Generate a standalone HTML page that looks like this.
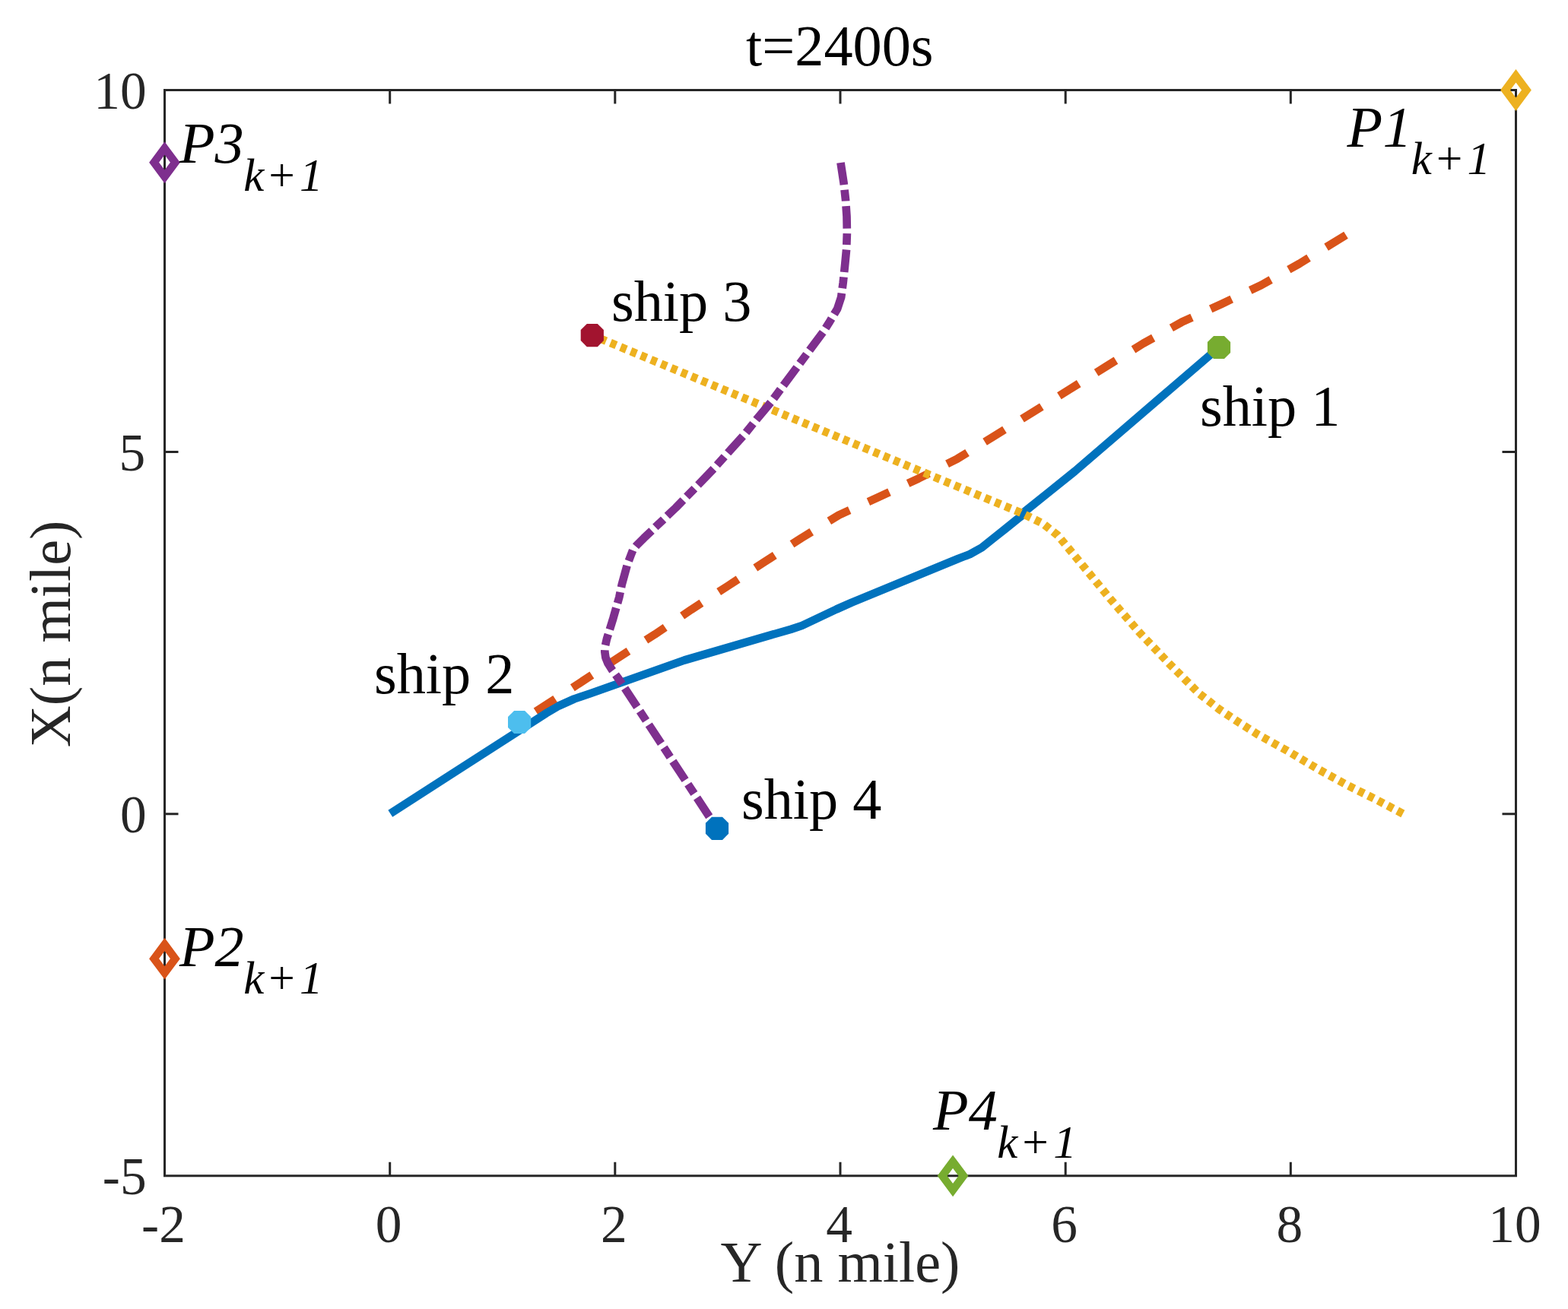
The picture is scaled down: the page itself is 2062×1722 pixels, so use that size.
<!DOCTYPE html>
<html lang="en"><head><meta charset="utf-8"><title>t=2400s</title>
<style>
html,body{margin:0;padding:0;background:#fff;}
body{width:2062px;height:1722px;overflow:hidden;}
svg{display:block;}
text{font-family:"Liberation Serif","Times New Roman",serif;}
.tk{font-size:69.4px;fill:#262626;}
.lb{font-size:76.3px;fill:#262626;}
.tt{font-size:76.3px;fill:#000;}
.sh{font-size:76.3px;fill:#000;}
.pp{font-size:76.3px;fill:#000;font-style:italic;}
.sub{font-size:61px;}
</style></head><body>
<svg xmlns="http://www.w3.org/2000/svg" width="2062" height="1722" viewBox="0 0 2062 1722">
<rect x="0" y="0" width="2062" height="1722" fill="#fff"/>

<g fill="none" stroke-width="10.7" stroke-linejoin="round">
<path d="M1770.0,309.2 L1708.5,347.0 L1658.5,375.1 L1606.5,399.8 L1554.1,423.7 L1503.5,451.8 L1454.6,482.1 L1406.1,512.5 L1356.6,543.2 L1308.1,573.2 L1259.1,603.4 L1207.8,629.6 L1155.5,653.9 L1103.1,677.6 L1054.0,707.7 L1005.2,739.3 L957.5,770.6 L909.1,801.9 L861.1,834.6 L815.3,863.7 L764.4,897.2 L683.1,950.0" stroke="#D95319" stroke-dasharray="30.4 27.1"/>
<path d="M513.3,1070.2 L718.0,938.4 L735.0,928.5 L755.0,919.5 L776.4,912.2 L900.0,868.5 L1040.0,827.8 L1054.6,823.0 L1100.0,801.5 L1120.0,792.6 L1260.0,735.0 L1275.6,729.0 L1291.1,720.4 L1306.7,707.9 L1322.3,695.5 L1337.8,683.0 L1343.0,679.0 L1345.6,674.5 L1380.0,646.8 L1413.4,620.0 L1603.3,456.7" stroke="#0072BD"/>
<path d="M1845.4,1070.7 L1809.2,1051.6 L1770.4,1032.2 L1731.6,1010.8 L1692.8,987.6 L1654.0,966.2 L1626.8,948.8 L1603.6,933.2 L1576.4,911.9 L1537.6,873.1 L1498.8,832.4 L1460.0,787.8 L1410.4,727.6 L1391.0,704.3 L1371.6,688.8 L1342.5,674.5 L778.8,441.1" stroke="#EDB120" stroke-dasharray="8.2 6.2" stroke-dashoffset="-0.65"/>
<path d="M1105.5,214.0 L1109.6,240.9 L1112.0,262.7 L1113.5,284.6 L1113.9,306.4 L1113.1,328.2 L1111.0,350.0 L1108.7,371.9 L1106.2,390.8 L1101.2,406.2 L1090.0,424.9 L1082.6,436.6 L1013.7,529.3 L995.1,551.5 L977.5,573.3 L957.7,595.1 L939.0,616.1 L918.8,637.1 L888.6,668.0 L846.9,707.7 L836.8,717.8 L832.5,723.0 L829.8,729.9 L824.7,743.5 L817.7,769.2 L814.3,785.6 L806.4,813.3 L798.0,840.4 L795.6,850.9 L795.3,857.2 L796.4,864.9 L799.5,872.7 L805.0,881.3 L813.5,893.0 L943.0,1089.8" stroke="#7E2F8E" stroke-dasharray="29.5 6.6 14.85 6.6"/>
</g>
<polygon points="1610.0,441.9 1618.1,450.0 1618.1,464.0 1610.0,472.1 1596.0,472.1 1587.9,464.0 1587.9,450.0 1596.0,441.9" fill="#77AC30"/>
<polygon points="690.1,934.9 698.2,943.0 698.2,957.0 690.1,965.1 676.1,965.1 668.0,957.0 668.0,943.0 676.1,934.9" fill="#4DBEEE"/>
<polygon points="785.8,426.0 793.9,434.1 793.9,448.1 785.8,456.2 771.8,456.2 763.7,448.1 763.7,434.1 771.8,426.0" fill="#A2142F"/>
<polygon points="950.0,1074.7 958.1,1082.8 958.1,1096.8 950.0,1104.9 936.0,1104.9 927.9,1096.8 927.9,1082.8 936.0,1074.7" fill="#0072BD"/>
<g stroke="#262626" stroke-width="3" fill="none" stroke-linecap="butt">
<rect x="216.5" y="118.5" width="1777.0" height="1428.3"/>
<path d="M512.7,1546.8 v-18 M512.7,118.5 v18"/>
<path d="M808.8,1546.8 v-18 M808.8,118.5 v18"/>
<path d="M1105.0,1546.8 v-18 M1105.0,118.5 v18"/>
<path d="M1401.2,1546.8 v-18 M1401.2,118.5 v18"/>
<path d="M1697.3,1546.8 v-18 M1697.3,118.5 v18"/>
<path d="M216.5,594.6 h18 M1993.5,594.6 h-18"/>
<path d="M216.5,1070.7 h18 M1993.5,1070.7 h-18"/>
</g>
<path d="M1993.5,99.8 L2007.4,118.5 L1993.5,137.2 L1979.6,118.5 Z" fill="none" stroke="#EDB120" stroke-width="10.4" stroke-linejoin="miter"/>
<path d="M216.5,1242.4399999999998 L230.4,1261.1399999999999 L216.5,1279.84 L202.6,1261.1399999999999 Z" fill="none" stroke="#D95319" stroke-width="10.4" stroke-linejoin="miter"/>
<path d="M216.5,195.02 L230.4,213.72 L216.5,232.42 L202.6,213.72 Z" fill="none" stroke="#7E2F8E" stroke-width="10.4" stroke-linejoin="miter"/>
<path d="M1253.0833333333333,1528.1 L1266.9833333333333,1546.8 L1253.0833333333333,1565.5 L1239.1833333333332,1546.8 Z" fill="none" stroke="#77AC30" stroke-width="10.4" stroke-linejoin="miter"/>
<text class="tk" x="215.0" y="1633.6" text-anchor="middle">-2</text>
<text class="tk" x="511.2" y="1633.6" text-anchor="middle">0</text>
<text class="tk" x="807.3" y="1633.6" text-anchor="middle">2</text>
<text class="tk" x="1103.5" y="1633.6" text-anchor="middle">4</text>
<text class="tk" x="1399.7" y="1633.6" text-anchor="middle">6</text>
<text class="tk" x="1695.8" y="1633.6" text-anchor="middle">8</text>
<text class="tk" x="1992.0" y="1633.6" text-anchor="middle">10</text>
<text class="tk" x="192.6" y="143.1" text-anchor="end">10</text>
<text class="tk" x="191.1" y="619.2" text-anchor="end">5</text>
<text class="tk" x="192.6" y="1095.3" text-anchor="end">0</text>
<text class="tk" x="192.6" y="1571.4" text-anchor="end">-5</text>
<text class="tt" x="1104.3" y="86" text-anchor="middle">t=2400s</text>
<text class="lb" x="1105.0" y="1686" text-anchor="middle">Y (n mile)</text>
<text class="lb" transform="translate(92,833.9) rotate(-90)" text-anchor="middle">X(n mile)</text>
<text class="sh" x="1578" y="559.5">ship 1</text>
<text class="sh" x="492" y="912">ship 2</text>
<text class="sh" x="804" y="422">ship 3</text>
<text class="sh" x="975" y="1077">ship 4</text>
<text class="pp" x="1771.5" y="192.5">P<tspan dx="0.4">1</tspan><tspan class="sub" dx="-0.9 2.1 3.5" dy="36.1">k+1</tspan></text>
<text class="pp" x="236" y="1271">P<tspan dx="0.0">2</tspan><tspan class="sub" dx="-0.5 2.1 3.5" dy="36.1">k+1</tspan></text>
<text class="pp" x="236" y="214.4">P<tspan dx="0.0">3</tspan><tspan class="sub" dx="-0.5 2.1 3.5" dy="36.1">k+1</tspan></text>
<text class="pp" x="1227.1" y="1486.4">P<tspan dx="0.0">4</tspan><tspan class="sub" dx="-0.5 2.1 3.5" dy="36.1">k+1</tspan></text>
</svg>
</body></html>
